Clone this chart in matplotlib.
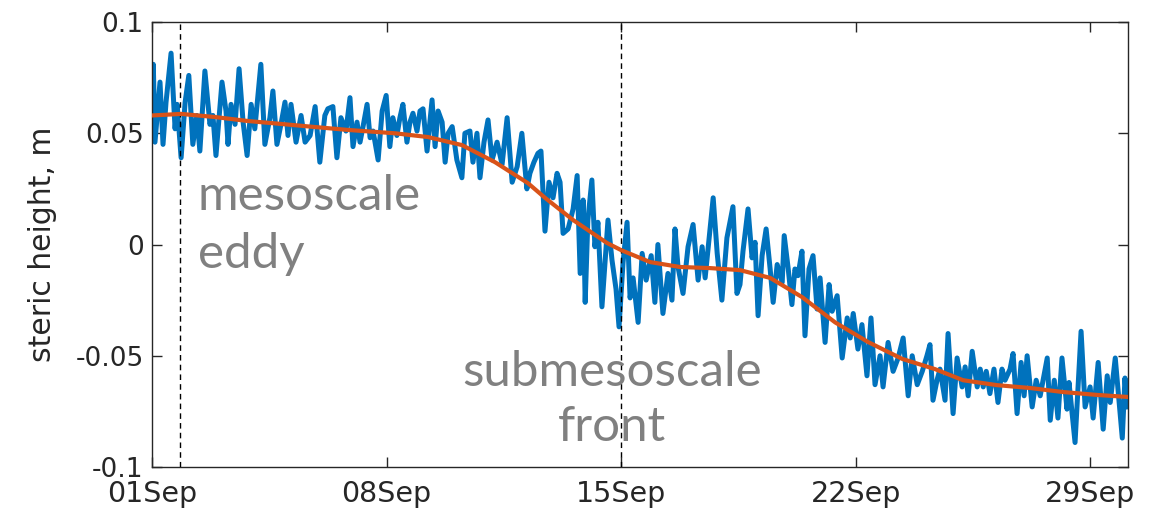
import matplotlib
matplotlib.use('Agg')
import matplotlib.pyplot as plt
import matplotlib.dates as mdates
import pandas as pd

# start of record
t0 = pd.Timestamp('2016-09-01')

# raw steric height (days since 01Sep, m)
raw_days = [0.00, 0.04, 0.09, 0.24, 0.33, 0.42, 0.57, 0.69, 0.75, 0.87, 0.99, 1.10, 1.22, 1.34, 1.43,
            1.58, 1.73, 1.82, 1.91, 2.09, 2.21, 2.27, 2.36, 2.48, 2.60, 2.72, 2.84, 2.96, 3.07, 3.25,
            3.37, 3.52, 3.61, 3.73, 3.85, 3.97, 4.06, 4.15, 4.30, 4.45, 4.57, 4.72, 4.87, 5.01, 5.16,
            5.25, 5.40, 5.52, 5.64, 5.79,
            5.91, 6.00, 6.12, 6.21, 6.30, 6.42, 6.51, 6.60, 6.75, 6.87, 6.99, 7.10, 7.19, 7.31, 7.40,
            7.49, 7.61, 7.70, 7.79, 7.91, 8.00, 8.09, 8.21, 8.36, 8.45, 8.54, 8.66, 8.75, 8.84, 8.96,
            9.10, 9.25, 9.34, 9.49, 9.58, 9.70, 9.79, 9.91, 10.03, 10.15, 10.30, 10.45, 10.60, 10.75,
            10.90, 11.04, 11.19, 11.28, 11.40, 11.52,
            11.61, 11.73, 11.85, 11.97, 12.09, 12.18, 12.27, 12.42, 12.57, 12.69, 12.78, 12.87, 12.93,
            13.01, 13.13, 13.22, 13.31, 13.43, 13.61, 13.73, 13.85, 13.94, 14.06, 14.18, 14.27, 14.36,
            14.51, 14.63, 14.75, 14.90, 15.01, 15.10, 15.25, 15.40, 15.52, 15.61, 15.70, 15.85, 16.00,
            16.15, 16.30, 16.42, 16.51, 16.75, 16.87, 17.01, 17.16, 17.34, 17.46,
            17.55, 17.64, 17.79, 17.91, 18.00, 18.09, 18.21, 18.33, 18.45, 18.54, 18.66, 18.81, 18.87,
            18.99, 19.10, 19.19, 19.28, 19.40, 19.49, 19.61, 19.73, 19.85, 19.94, 20.09, 20.21, 20.30,
            20.45, 20.60, 20.75, 20.84, 20.93, 21.07, 21.19, 21.34, 21.46, 21.58, 21.73, 21.82, 21.97,
            22.12, 22.27, 22.42, 22.57, 22.69, 22.84, 22.99, 23.13,
            23.22, 23.31, 23.43, 23.52, 23.67, 23.76, 23.91, 24.03, 24.18, 24.27, 24.36, 24.48, 24.63,
            24.72, 24.81, 24.90, 25.01, 25.13, 25.25, 25.37, 25.46, 25.61, 25.70, 25.82, 25.94, 26.03,
            26.12, 26.27, 26.39, 26.51, 26.72, 26.81, 26.93, 27.04, 27.16, 27.31, 27.37, 27.55, 27.73,
            27.85, 28.00, 28.09, 28.24, 28.39, 28.51, 28.60, 28.75, 28.96, 29.04, 29.10]
raw_vals = [0.066, 0.081, 0.046, 0.073, 0.045, 0.064, 0.086, 0.052, 0.063, 0.039, 0.064, 0.076, 0.045, 0.058, 0.042,
            0.078, 0.054, 0.058, 0.040, 0.073, 0.060, 0.045, 0.063, 0.054, 0.079, 0.055, 0.040, 0.063, 0.052, 0.081,
            0.045, 0.057, 0.069, 0.045, 0.054, 0.064, 0.049, 0.063, 0.046, 0.058, 0.046, 0.049, 0.062, 0.037, 0.058,
            0.061, 0.062, 0.039, 0.057, 0.051,
            0.066, 0.044, 0.055, 0.046, 0.053, 0.063, 0.048, 0.051, 0.038, 0.060, 0.067, 0.044, 0.057, 0.049, 0.057,
            0.063, 0.046, 0.055, 0.059, 0.051, 0.060, 0.061, 0.042, 0.065, 0.044, 0.060, 0.055, 0.037, 0.050, 0.053,
            0.038, 0.030, 0.050, 0.051, 0.037, 0.050, 0.030, 0.046, 0.056, 0.038, 0.046, 0.036, 0.057, 0.028,
            0.035, 0.050, 0.025, 0.032, 0.037, 0.041,
            0.042, 0.006, 0.028, 0.021, 0.032, 0.028, 0.005, 0.007, 0.016, 0.031, -0.013, 0.020, -0.026,
            0.011, 0.029, -0.001, 0.010, -0.028, 0.011, -0.007, -0.020, -0.037, -0.008, 0.010, -0.024, -0.015,
            -0.035, -0.004, -0.016, -0.005, -0.026, 0.000, -0.031, -0.013, -0.025, 0.007, -0.010, -0.022, -0.001,
            0.009, -0.016, -0.001, -0.015, 0.021, -0.004, -0.025, 0.003, 0.017, -0.022,
            -0.018, -0.003, 0.016, -0.006, 0.001, -0.032, -0.005, 0.007, -0.011, -0.026, -0.009, -0.017, 0.004,
            -0.011, -0.027, -0.011, -0.014, -0.003, -0.041, -0.011, -0.005, -0.029, -0.015, -0.044, -0.018, -0.030,
            -0.023, -0.051, -0.033, -0.042, -0.031, -0.047, -0.036, -0.059, -0.033, -0.063, -0.050, -0.064, -0.044,
            -0.057, -0.051, -0.042, -0.068, -0.050, -0.063, -0.057, -0.050,
            -0.045, -0.070, -0.061, -0.056, -0.070, -0.040, -0.076, -0.051, -0.064, -0.055, -0.068, -0.048, -0.064,
            -0.056, -0.064, -0.057, -0.067, -0.056, -0.071, -0.056, -0.061, -0.056, -0.049, -0.076, -0.053, -0.068,
            -0.050, -0.073, -0.061, -0.068, -0.051, -0.079, -0.061, -0.078, -0.051, -0.074, -0.062, -0.089, -0.039,
            -0.073, -0.064, -0.078, -0.053, -0.083, -0.059, -0.071, -0.051, -0.087, -0.060, -0.073]

# low-passed steric height
smooth_days = [0.00, 0.87, 1.88, 2.87, 3.85, 4.87, 5.85, 7.25, 8.24, 9.25, 10.24, 11.22, 11.73, 12.57,
               13.58, 14.00, 14.87, 15.76, 16.66, 17.55, 18.45, 19.40, 20.39, 21.37, 22.39, 23.37,
               24.21, 25.22, 26.21, 27.19, 28.21, 29.10]
smooth_vals = [0.0580, 0.0587, 0.0573, 0.0555, 0.0542, 0.0528, 0.0515, 0.0500, 0.0483, 0.0447, 0.0370,
               0.0276, 0.0210, 0.0110, 0.0007, -0.0025, -0.0079, -0.0101, -0.0106, -0.0115, -0.0150,
               -0.0236, -0.0350, -0.0438, -0.0514, -0.0560, -0.0610, -0.0632, -0.0645, -0.0663,
               -0.0676, -0.0685]

# times of the two marked events
event_days = [0.84, 14.0]

yticks = [-0.1, -0.05, 0, 0.05, 0.1]
ytick_labels = ['-0.1', '-0.05', '0', '0.05', '0.1']
xtick_dates = ['2016-09-01', '2016-09-08', '2016-09-15', '2016-09-22', '2016-09-29']

raw_t = t0 + pd.to_timedelta(raw_days, unit='D')
smooth_t = t0 + pd.to_timedelta(smooth_days, unit='D')
event_t = t0 + pd.to_timedelta(event_days, unit='D')

fig = plt.figure(figsize=(11.6, 5.17), dpi=100)
ax = fig.add_axes([0.131, 0.0967, 0.8414, 0.8607])

ax.plot(raw_t, raw_vals, color='#0072BD', linewidth=3.6, zorder=2)
for t in event_t:
    ax.axvline(t, color='black', linestyle=(0, (4, 3)), linewidth=1.0, zorder=3)
ax.plot(smooth_t, smooth_vals, color='#D95319', linewidth=3.0, zorder=4)

ax.set_xlim(t0, t0 + pd.Timedelta(days=29.13))
ax.set_ylim(-0.1, 0.1)
ax.set_yticks(yticks)
ax.set_yticklabels(ytick_labels)
ax.set_xticks(pd.to_datetime(xtick_dates))
ax.xaxis.set_major_formatter(mdates.DateFormatter('%d%b'))

ax.tick_params(direction='in', length=7, width=1, top=True, right=True,
               colors='#262626')
ax.tick_params(axis='y', labelsize=19, pad=6)
ax.tick_params(axis='x', labelsize=20.5, pad=9)
for s in ax.spines.values():
    s.set_color('#262626')
    s.set_linewidth(1.0)

ax.set_ylabel('steric height, m', fontsize=21.5, color='#262626', labelpad=13)

# annotations
txt = dict(color='#808080', fontsize=35.5, family='Lato')
ax.text(t0 + pd.Timedelta(days=1.37), 0.0155, 'mesoscale', ha='left', va='baseline', **txt)
ax.text(t0 + pd.Timedelta(days=1.37), -0.0104, 'eddy', ha='left', va='baseline', **txt)
ax.text(t0 + pd.Timedelta(days=13.73), -0.0636, 'submesoscale', ha='center', va='baseline', **txt)
ax.text(t0 + pd.Timedelta(days=13.73), -0.0883, 'front', ha='center', va='baseline', **txt)

fig.savefig('out.png', dpi=100)
